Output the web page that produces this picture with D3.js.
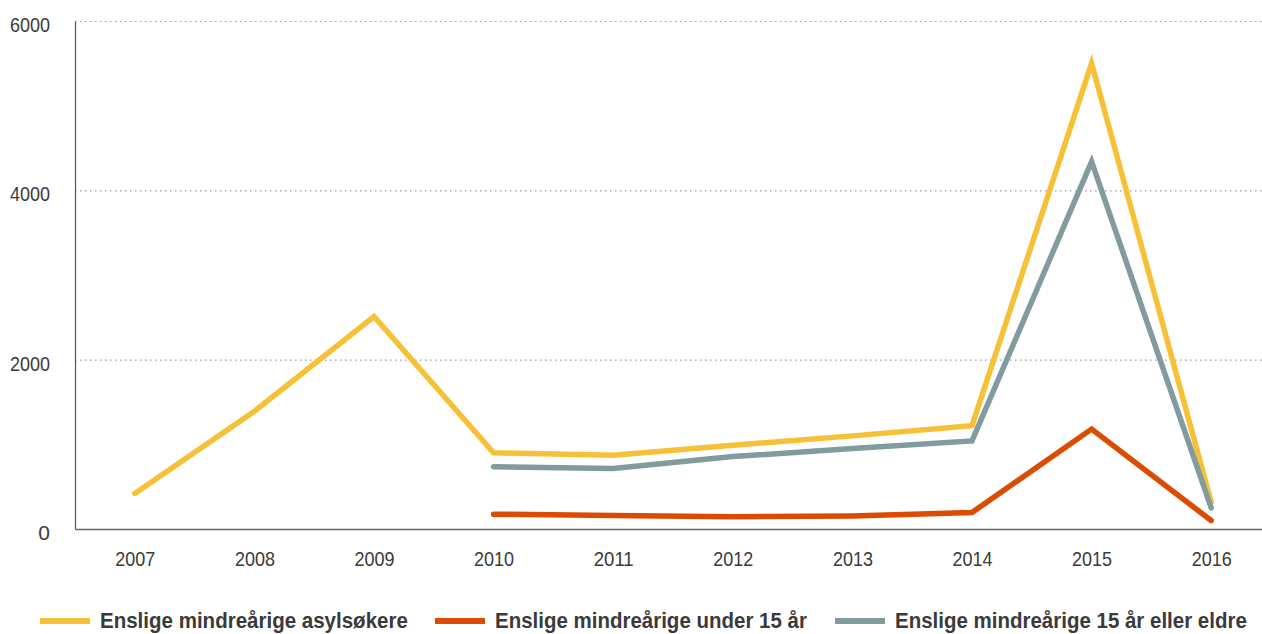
<!DOCTYPE html>
<html>
<head>
<meta charset="utf-8">
<script src="https://cdn.jsdelivr.net/npm/d3@7"></script>
<style>
  body { margin: 0; background: #fff; }
  text { font-family: "Liberation Sans", Arial, sans-serif; fill: #3a3a3a; }
</style>
</head>
<body>
<script>
// Data
const years = ["2007", "2008", "2009", "2010", "2011", "2012", "2013", "2014", "2015", "2016"];
const asylsokere = [420, 1390, 2510, 900, 870, 990, 1100, 1220, 5500, 320];
const under15 = [null, null, null, 175, 160, 145, 155, 195, 1180, 100];
const over15 = [null, null, null, 735, 715, 855, 950, 1040, 4340, 250];
const yTicks = [0, 2000, 4000, 6000];
const seriesNames = ["Enslige mindreårige asylsøkere", "Enslige mindreårige under 15 år", "Enslige mindreårige 15 år eller eldre"];
const seriesColors = ["#f6c136", "#dc4b02", "#819b9e"];

const w = 1262;
const h = 634;
const plotLeft = 75, plotRight = 1271, plotTop = 21, plotBottom = 529;

const svg = d3.select("body")
  .append("svg")
  .attr("width", w)
  .attr("height", h);

// Scales
const xScale = d3.scalePoint()
  .domain(years)
  .range([plotLeft, plotRight])
  .padding(0.5);
const yScale = d3.scaleLinear()
  .domain([0, 6000])
  .range([plotBottom, plotTop]);

// Grid lines (dotted)
svg.append("g")
  .selectAll("line")
  .data(yTicks.filter(d => d > 0))
  .enter()
  .append("line")
  .attr("x1", plotLeft)
  .attr("x2", w)
  .attr("y1", d => yScale(d) + 0.5)
  .attr("y2", d => yScale(d) + 0.5)
  .attr("stroke", "#9a9a9a")
  .attr("stroke-width", 1.2)
  .attr("stroke-dasharray", "1.5,3.5");

// Narrow look: squeeze wide labels
function narrow(sel) {
  sel.each(function() {
    const t = d3.select(this);
    if (t.text().length > 1) t.attr("textLength", 40).attr("lengthAdjust", "spacingAndGlyphs");
  });
}

// Y axis
const yAxis = d3.axisLeft(yScale).tickValues(yTicks).tickFormat(d3.format("d")).tickSize(0).tickPadding(25);
const gy = svg.append("g")
  .attr("transform", `translate(${plotLeft}, 0)`)
  .call(yAxis);
gy.select(".domain").attr("stroke", "#555").attr("stroke-width", 1.2);
gy.selectAll("text").style("font-size", "21px").attr("dy", "0.5em").call(narrow);

// X axis
const xAxis = d3.axisBottom(xScale).tickSize(0).tickPadding(22);
const gx = svg.append("g")
  .attr("transform", `translate(0, ${plotBottom})`)
  .call(xAxis);
gx.select(".domain").attr("stroke", "#666").attr("stroke-width", 1.3);
gx.selectAll("text").style("font-size", "21px").call(narrow);

// Lines
const allSeries = [asylsokere, under15, over15];
const line = d3.line()
  .defined(d => d != null)
  .x((d, i) => xScale(years[i]))
  .y(d => yScale(d));

svg.append("g")
  .selectAll("path")
  .data(allSeries)
  .enter()
  .append("path")
  .attr("d", d => line(d))
  .attr("fill", "none")
  .attr("stroke", (d, i) => seriesColors[i])
  .attr("stroke-width", 5.5)
  .attr("stroke-linecap", "round")
  .attr("stroke-linejoin", "miter");

// Legend
const legendX = [40, 435, 835];
const legendTextW = [308, 312, 352];
const legend = svg.append("g")
  .selectAll("g")
  .data(seriesNames)
  .enter()
  .append("g")
  .attr("transform", (d, i) => `translate(${legendX[i]}, 621)`);

legend.append("line")
  .attr("x1", 0)
  .attr("x2", 50)
  .attr("stroke", (d, i) => seriesColors[i])
  .attr("stroke-width", 6);

// text squeezed horizontally to the condensed width seen in the chart
legend.append("text")
  .attr("y", 7)
  .style("font-size", "22px")
  .style("font-weight", "bold")
  .text(d => d)
  .attr("transform", function(d, i) {
    const natural = this.getComputedTextLength();
    return `translate(60, 0) scale(${legendTextW[i] / natural}, 1)`;
  });
</script>
</body>
</html>
